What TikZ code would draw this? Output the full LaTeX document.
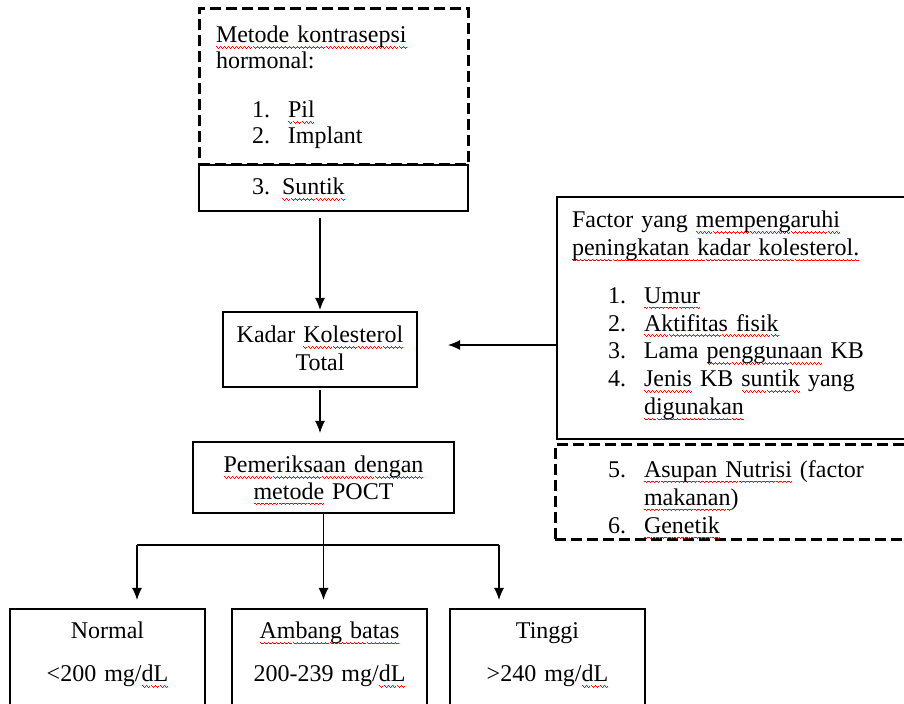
\documentclass[tikz,border=0pt]{standalone}
\usepackage{fontspec}
\setmainfont{Liberation Serif}
\usetikzlibrary{arrows.meta}
\usetikzlibrary{positioning,calc}

\newsavebox{\salahbox}
\newcommand{\gelombang}{\hbox{\rule[-2.2pt]{0.5pt}{0.5pt}\rule[-2.6pt]{0.5pt}{0.5pt}\rule[-3pt]{0.5pt}{0.5pt}\rule[-2.6pt]{0.5pt}{0.5pt}}}
\newcommand{\salah}[1]{\leavevmode\sbox{\salahbox}{#1}\rlap{\textcolor{red}{\hbox to \wd\salahbox{\xleaders\gelombang\hfill}}}\usebox{\salahbox}}
\newcommand{\butir}[2]{\hspace*{18pt}\makebox[18pt][l]{#1.}#2}
\newcommand{\lanjut}[1]{\hspace*{36pt}#1}

\begin{document}
\begin{tikzpicture}[x=0.5pt, y=-0.5pt, font=\fontsize{12}{14}\selectfont]
\tikzset{
box/.style = {rectangle, draw, line width=0.65pt, inner ysep=0pt, outer sep=0pt, anchor=north west},
dashbox/.style = {box, line width=1.5pt, dash pattern=on 5.5pt off 2.5pt},
hasil/.style = {box, inner xsep=4pt, text width=89.5pt, align=center, text height=14.65pt, text depth=40.85pt},
line/.style = {draw, line width=0.6pt, -{Latex[length=6pt,width=5pt]}}
}
\useasboundingbox (0,0) rectangle (904,704);
\clip (0,0) rectangle (904,704);

     % metode kontrasepsi
     \node [box, line width=1pt, inner xsep=8.5pt, text width=117.5pt, align=left, text height=15pt, text depth=8pt] (suntik) at (199,165) {\hspace*{18pt}3. \salah{Suntik}};
     \node [dashbox, anchor=south west, inner xsep=8.5pt, text width=117.5pt, align=left, text height=16.85pt, text depth=61.15pt, font=\fontsize{12}{13}\selectfont] (hormon) at (suntik.north west) {\salah{Metode kontrasepsi}\\hormonal:\\[11.5pt]\butir{1}{\salah{Pil}}\\\butir{2}{Implant}};

     % alur utama
     \node [box, inner xsep=4pt, text width=89pt, align=center, text height=15.35pt, text depth=22.15pt, font=\fontsize{12}{13.7}\selectfont] (kadar) at (223,312) {Kadar \salah{Kolesterol}\\Total};
     \node [box, inner xsep=4pt, text width=122.5pt, align=center, text height=15.35pt, text depth=20.15pt, font=\fontsize{12}{13.3}\selectfont] (poct) at (193,442) {\salah{Pemeriksaan dengan}\\\salah{metode} POCT};

     % faktor
     \node [box, inner xsep=7.5pt, text width=171.5pt, align=left, text height=15.35pt, text depth=105.65pt, font=\fontsize{12}{13.9}\selectfont] (faktor) at (557,197) {Factor yang \salah{mempengaruhi}\\\salah{peningkatan kadar kolesterol.}\\[10pt]\butir{1}{\salah{Umur}}\\\butir{2}{\salah{Aktifitas fisik}}\\\butir{3}{Lama \salah{penggunaan} KB}\\\butir{4}{\salah{Jenis} KB \salah{suntik} yang}\\\lanjut{\salah{digunakan}}};
     \node [dashbox, inner xsep=8.5pt, text width=170.5pt, align=left, text height=16.15pt, text depth=31.35pt] (faktorb) at (555,445) {\butir{5}{\salah{Asupan Nutrisi} (factor}\\\lanjut{\salah{makanan})}\\\butir{6}{\salah{Genetik}}};

     % hasil
     \node [hasil] (normal) at (10,609) {Normal\\[7.7pt]<200 mg/\salah{dL}};
     \node [hasil] (ambang) at (232,609) {\salah{Ambang batas}\\[7.7pt]200-239 mg/\salah{dL}};
     \node [hasil] (tinggi) at (450,609) {Tinggi\\[7.7pt]>240 mg/\salah{dL}};

     \coordinate (cabangkiri) at (137,545);
     \coordinate (cabangkanan) at (499,545);

     \path [line, shorten <=3.5pt, shorten >=1pt] (kadar.north |- suntik.south) -- (kadar.north);
     \path [line, shorten <=1.5pt, shorten >=4.5pt] (kadar.south) -- (kadar.south |- poct.north);
     \path [line, shorten >=15.5pt] ([yshift=2.25pt]kadar.east -| faktor.west) -- ([yshift=2.25pt]kadar.east);
     \draw [line width=0.6pt] (cabangkiri) -- (cabangkanan);
     \path [line, shorten >=4.5pt] (poct.south) -- (poct.south |- ambang.north);
     \path [line, shorten >=4.5pt] (cabangkiri) -- (cabangkiri |- normal.north);
     \path [line, shorten >=4.5pt] (cabangkanan) -- (cabangkanan |- tinggi.north);
\end{tikzpicture}
\end{document}
